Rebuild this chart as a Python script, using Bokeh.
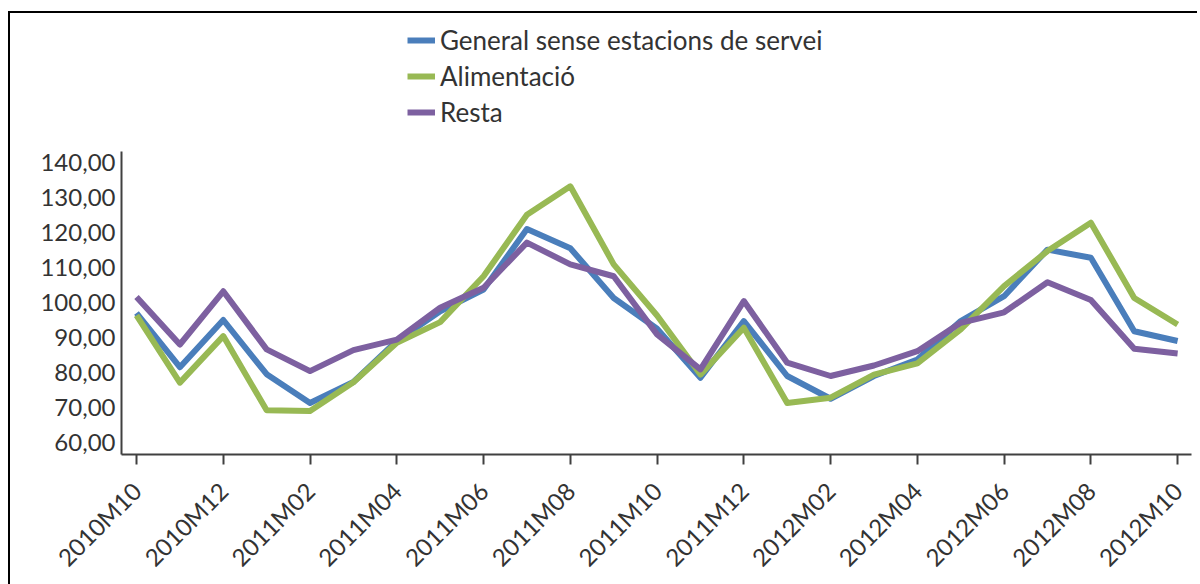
import math
from bokeh.plotting import figure
from bokeh.models import Range1d, FixedTicker, Legend, LegendItem
from bokeh.embed import file_html
from bokeh.resources import INLINE

months = ["2010M10", "2010M11", "2010M12", "2011M01", "2011M02", "2011M03", "2011M04",
          "2011M05", "2011M06", "2011M07", "2011M08", "2011M09", "2011M10", "2011M11",
          "2011M12", "2012M01", "2012M02", "2012M03", "2012M04", "2012M05", "2012M06",
          "2012M07", "2012M08", "2012M09", "2012M10"]

general = [97.0, 81.5, 95.0, 79.5, 71.3, 77.3, 89.0, 97.5, 103.7, 121.0, 115.5, 101.3, 92.5,
           78.5, 94.7, 79.0, 72.5, 79.0, 83.7, 94.7, 101.8, 115.1, 112.8, 91.8, 89.0]
alimentacio = [96.3, 77.1, 90.4, 69.2, 69.0, 77.2, 88.5, 94.4, 107.5, 125.1, 133.2, 110.9, 96.3,
               79.4, 92.8, 71.3, 72.8, 79.4, 82.6, 92.3, 104.7, 114.7, 122.8, 101.3, 93.7]
resta = [101.6, 88.0, 103.2, 86.6, 80.4, 86.4, 89.4, 98.5, 104.2, 117.1, 110.9, 107.5, 90.9,
         80.9, 100.4, 82.8, 79.0, 82.0, 86.1, 94.2, 97.2, 105.8, 100.7, 86.8, 85.4]

series_names = ["General sense estacions de servei", "Alimentació", "Resta"]
series_colors = ["#4A7EBB", "#98B954", "#7D60A0"]

y_ticks = [60, 70, 80, 90, 100, 110, 120, 130, 140]
y_tick_labels = ["60,00", "70,00", "80,00", "90,00", "100,00", "110,00", "120,00", "130,00", "140,00"]

x_tick_labels = ["2010M10", "2010M12", "2011M02", "2011M04", "2011M06", "2011M08", "2011M10",
                 "2011M12", "2012M02", "2012M04", "2012M06", "2012M08", "2012M10"]

FONT = "Lato"
TXT = "#333333"
AX = "#404040"

xs = list(range(len(months)))

# frame extends up to hold the legend; the y axis line is bounded to the value area
p = figure(width=1189, height=576, output_backend="svg", toolbar_location=None,
           x_range=Range1d(-0.346, 24.32), y_range=Range1d(56.57, 180.86),
           min_border_left=111, min_border_right=8, min_border_top=6, min_border_bottom=135)
p.styles = {"border-top": "2px solid #000000", "border-left": "2px solid #000000",
            "margin-left": "8px", "margin-top": "11px"}

p.grid.visible = False
p.outline_line_color = None
p.background_fill_color = "white"
p.border_fill_color = "white"

renderers = []
for ys, col in zip([general, alimentacio, resta], series_colors):
    r = p.line(xs, ys, line_color=col, line_width=6, line_join="round")
    renderers.append(r)

# x axis
tick_pos = [months.index(m) for m in x_tick_labels]
p.xaxis.ticker = FixedTicker(ticks=tick_pos)
p.xaxis.major_label_overrides = {t: lab for t, lab in zip(tick_pos, x_tick_labels)}
p.xaxis.major_label_orientation = math.pi / 4
p.xaxis.major_label_text_font = FONT
p.xaxis.major_label_text_font_size = "24px"
p.xaxis.major_label_text_color = TXT
p.xaxis.major_label_standoff = 22
p.xaxis.axis_line_color = AX
p.xaxis.axis_line_width = 2
p.xaxis.major_tick_line_color = AX
p.xaxis.major_tick_line_width = 2
p.xaxis.major_tick_out = 10
p.xaxis.major_tick_in = 0
p.xaxis.minor_tick_line_color = None

# y axis
p.yaxis.ticker = FixedTicker(ticks=y_ticks)
p.yaxis.bounds = (56.57, 143.14)
p.yaxis.major_label_overrides = {t: lab for t, lab in zip(y_ticks, y_tick_labels)}
p.yaxis.major_label_text_font = FONT
p.yaxis.major_label_text_font_size = "24px"
p.yaxis.major_label_text_color = TXT
p.yaxis.major_label_standoff = 0
p.yaxis.axis_line_color = AX
p.yaxis.axis_line_width = 2
p.yaxis.major_tick_line_color = None
p.yaxis.minor_tick_line_color = None

legend = Legend(items=[LegendItem(label=n, renderers=[r]) for n, r in zip(series_names, renderers)],
                location=(286, 326), orientation="vertical",
                label_text_font=FONT, label_text_font_size="26px", label_text_color=TXT,
                glyph_width=28, glyph_height=30, label_height=30, label_standoff=5, spacing=4,
                padding=0, margin=0, border_line_color=None, background_fill_alpha=0)
p.add_layout(legend, "center")

open("out.html", "w").write(file_html(p, INLINE))
